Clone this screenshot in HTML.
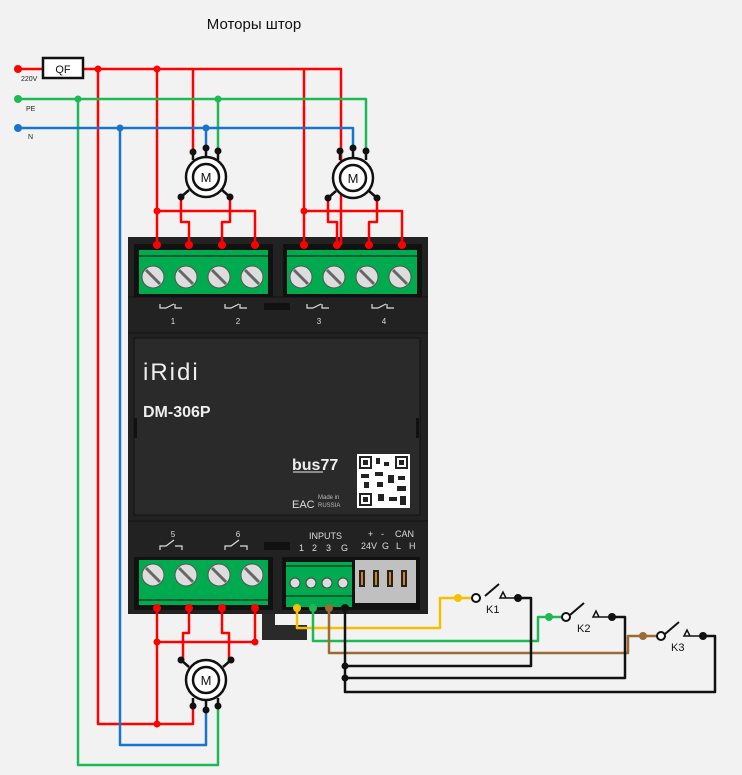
<!DOCTYPE html>
<html><head><meta charset="utf-8"><style>
body{margin:0;background:#f2f2f2;}
svg{display:block;font-family:"Liberation Sans","DejaVu Sans",sans-serif;}
</style></head><body>
<svg width="742" height="775" viewBox="0 0 742 775" xmlns="http://www.w3.org/2000/svg">
<rect width="742" height="775" fill="#f2f2f2"/>
<text x="254" y="29" font-size="15" text-anchor="middle" fill="#111">Моторы штор</text>

<!-- device body -->
<rect x="128" y="237" width="300" height="377" fill="#222"/>
<rect x="134" y="244" width="139" height="53" fill="#111"/>
<rect x="283" y="244" width="139" height="53" fill="#111"/>
<g fill="#00aa4f">
<rect x="139" y="250" width="129" height="44"/>
<rect x="287" y="250" width="130" height="44"/>
</g>
<line x1="139" y1="256" x2="268" y2="256" stroke="#111" stroke-width="1"/>
<line x1="287" y1="256" x2="417" y2="256" stroke="#111" stroke-width="1"/>
<g fill="#00aa4f">
<circle cx="153" cy="277" r="14"/><circle cx="186" cy="277" r="14"/><circle cx="219" cy="277" r="14"/><circle cx="252" cy="277" r="14"/>
<circle cx="301" cy="277" r="14"/><circle cx="334" cy="277" r="14"/><circle cx="367" cy="277" r="14"/><circle cx="400" cy="277" r="14"/>
</g>
<g fill="#ddd" stroke="#555" stroke-width="1">
<circle cx="153" cy="277" r="11"/><circle cx="186" cy="277" r="11"/><circle cx="219" cy="277" r="11"/><circle cx="252" cy="277" r="11"/>
<circle cx="301" cy="277" r="11"/><circle cx="334" cy="277" r="11"/><circle cx="367" cy="277" r="11"/><circle cx="400" cy="277" r="11"/>
</g>
<g stroke="#666" stroke-width="3">
<line x1="146" y1="270" x2="160" y2="284"/><line x1="179" y1="270" x2="193" y2="284"/><line x1="212" y1="270" x2="226" y2="284"/><line x1="245" y1="270" x2="259" y2="284"/>
<line x1="294" y1="270" x2="308" y2="284"/><line x1="327" y1="270" x2="341" y2="284"/><line x1="360" y1="270" x2="374" y2="284"/><line x1="393" y1="270" x2="407" y2="284"/>
</g>
<line x1="128" y1="297" x2="428" y2="297" stroke="#111"/>
<line x1="128" y1="333" x2="428" y2="333" stroke="#111"/>
<rect x="264" y="303" width="26" height="7" fill="#111"/>
<g stroke="#ddd" stroke-width="1.2" fill="none">
<path d="M160,304v4h6l8,-4M175,304v4h7"/>
<path d="M225,304v4h6l8,-4M240,304v4h7"/>
<path d="M307,304v4h6l8,-4M322,304v4h7"/>
<path d="M372,304v4h6l8,-4M387,304v4h7"/>
</g>
<g fill="#ddd" font-size="8" text-anchor="middle">
<text x="173" y="324">1</text><text x="238" y="324">2</text><text x="319" y="324">3</text><text x="384" y="324">4</text>
</g>
<rect x="134" y="338" width="286" height="177" fill="#2a2a2a" stroke="#111"/>
<rect x="134" y="418" width="3" height="20" fill="#111"/><rect x="416" y="418" width="3" height="20" fill="#111"/>
<text x="143" y="380" font-size="24" fill="#eee" letter-spacing="2">iRidi</text>
<text x="143" y="417" font-size="16" font-weight="bold" fill="#eee">DM-306P</text>
<text x="292" y="470" font-size="16" font-weight="bold" fill="#eee">bus77</text>
<line x1="293" y1="472" x2="323" y2="472" stroke="#eee"/>
<text x="292" y="508" font-size="11" fill="#ddd">EAC</text>
<text x="318" y="499" font-size="6" fill="#bbb">Made in</text>
<text x="318" y="507" font-size="6" fill="#bbb">RUSSIA</text>
<rect x="357" y="454" width="53" height="54" fill="#fff"/>
<g fill="#222">
<rect x="359" y="456" width="13" height="13"/><rect x="395" y="456" width="13" height="13"/><rect x="359" y="493" width="13" height="13"/>
<rect x="376" y="458" width="4" height="6"/><rect x="384" y="462" width="5" height="4"/><rect x="375" y="472" width="8" height="4"/>
<rect x="361" y="474" width="8" height="4"/><rect x="388" y="475" width="6" height="8"/><rect x="398" y="476" width="7" height="4"/>
<rect x="364" y="482" width="5" height="6"/><rect x="377" y="482" width="6" height="5"/><rect x="397" y="486" width="9" height="5"/>
<rect x="378" y="494" width="6" height="7"/><rect x="389" y="497" width="8" height="4"/><rect x="400" y="496" width="6" height="9"/>
</g>
<g fill="#fff">
<rect x="361" y="458" width="9" height="9"/><rect x="397" y="458" width="9" height="9"/><rect x="361" y="495" width="9" height="9"/>
</g>
<g fill="#222"><rect x="363" y="460" width="5" height="5"/><rect x="399" y="460" width="5" height="5"/><rect x="363" y="497" width="5" height="5"/></g>
<line x1="128" y1="521" x2="428" y2="521" stroke="#111"/>
<g stroke="#ddd" stroke-width="1.2" fill="none">
<path d="M160,550v-4h6l8,-6M175,546h7v4"/>
<path d="M225,550v-4h6l8,-6M240,546h7v4"/>
</g>
<g fill="#ddd" font-size="8" text-anchor="middle">
<text x="173" y="537">5</text><text x="238" y="537">6</text>
</g>
<rect x="264" y="542" width="26" height="8" fill="#111"/>
<g fill="#ddd" font-size="9">
<text x="309" y="539">INPUTS</text>
<text x="299" y="551">1</text><text x="312" y="551">2</text><text x="326" y="551">3</text><text x="341" y="551">G</text>
<text x="368" y="537">+</text><text x="381" y="537">-</text><text x="395" y="537">CAN</text>
<text x="361" y="549">24V</text><text x="382" y="549">G</text><text x="396" y="549">L</text><text x="409" y="549">H</text>
</g>
<rect x="134" y="557" width="139" height="53" fill="#111"/>
<rect x="282" y="557" width="138" height="53" fill="#111"/>
<rect x="139" y="560" width="129" height="45" fill="#00aa4f"/>
<line x1="139" y1="600" x2="268" y2="600" stroke="#111"/>
<g fill="#00aa4f">
<circle cx="153" cy="575" r="14"/><circle cx="186" cy="575" r="14"/><circle cx="219" cy="575" r="14"/><circle cx="252" cy="575" r="14"/>
</g>
<g fill="#ddd" stroke="#555" stroke-width="1">
<circle cx="153" cy="575" r="11"/><circle cx="186" cy="575" r="11"/><circle cx="219" cy="575" r="11"/><circle cx="252" cy="575" r="11"/>
</g>
<g stroke="#666" stroke-width="3">
<line x1="146" y1="568" x2="160" y2="582"/><line x1="179" y1="568" x2="193" y2="582"/><line x1="212" y1="568" x2="226" y2="582"/><line x1="245" y1="568" x2="259" y2="582"/>
</g>
<rect x="286" y="562" width="66" height="45" fill="#00aa4f"/>
<line x1="286" y1="566" x2="352" y2="566" stroke="#111"/>
<line x1="286" y1="596" x2="352" y2="596" stroke="#111"/>
<g fill="#ddd" stroke="#444" stroke-width="1">
<circle cx="295" cy="583" r="5"/><circle cx="311" cy="583" r="5"/><circle cx="327" cy="583" r="5"/><circle cx="343" cy="583" r="5"/>
</g>
<rect x="355" y="560" width="61" height="43" fill="#c0c0c0"/>
<g fill="#222"><rect x="359" y="570" width="6" height="17"/><rect x="373" y="570" width="6" height="17"/><rect x="387" y="570" width="6" height="17"/><rect x="401" y="570" width="6" height="17"/></g>
<g fill="#d4821e"><rect x="361" y="572" width="2" height="13"/><rect x="375" y="572" width="2" height="13"/><rect x="389" y="572" width="2" height="13"/><rect x="403" y="572" width="2" height="13"/></g>
<path d="M262,614h13v11h32v15h-45z" fill="#2a2a2a"/>

<g fill="none" stroke-width="2.5" stroke-linejoin="round">
<!-- bus lines -->
<path d="M18,69H43M83,69H341V245M304,69V245M157,69V245M193,69V152" stroke="#f00"/>
<path d="M98,69V724H193V706" stroke="#f00"/>
<path d="M18,99H366V151M218,99V151M78,99V765H218V706" stroke="#1db954"/>
<path d="M18,128H353V148M206,128V148M120,128V745H206V710" stroke="#1874cd"/>
<!-- motor1 wiring -->
<path d="M157,211H255V245M181,197V222H189V245M230,197V222H222V245" stroke="#f00"/>
<path d="M304,211H402V245M328,198V222H337V245M377,198V222H369V245" stroke="#f00"/>
<!-- bottom motor wiring -->
<path d="M157,608V724M157,642H255V608M189,608V633H183V660M222,608V633H229V660" stroke="#f00"/>
<!-- inputs -->
<path d="M297,608V628H440V598H476" stroke="#f5c000"/>
<path d="M313,608V641H538V617H566" stroke="#1db954"/>
<path d="M329,608V653H628V636H661" stroke="#9a6b35"/>
<path d="M345,608V692H715V636H703M345,678H625V617H612M345,666H531V598H518" stroke="#111"/>
</g>
<!-- QF -->
<rect x="43" y="58" width="40" height="20" fill="#fff" stroke="#111" stroke-width="2.5"/>
<text x="63" y="73" font-size="11" text-anchor="middle" fill="#111">QF</text>
<g font-size="7" fill="#222"><text x="21" y="81">220V</text><text x="26" y="111">PE</text><text x="28" y="139">N</text></g>
<!-- dots -->
<g fill="#f00">
<circle cx="18" cy="69" r="4"/><circle cx="98" cy="69" r="3.5"/><circle cx="157" cy="69" r="3.5"/><circle cx="157" cy="211" r="3.5"/><circle cx="304" cy="211" r="3.5"/>
<circle cx="157" cy="245" r="4"/><circle cx="189" cy="245" r="4"/><circle cx="222" cy="245" r="4"/><circle cx="255" cy="245" r="4"/>
<circle cx="304" cy="245" r="4"/><circle cx="337" cy="245" r="4"/><circle cx="369" cy="245" r="4"/><circle cx="402" cy="245" r="4"/>
<circle cx="157" cy="608" r="4"/><circle cx="189" cy="608" r="4"/><circle cx="222" cy="608" r="4"/><circle cx="255" cy="608" r="4"/>
<circle cx="157" cy="642" r="3.5"/><circle cx="255" cy="642" r="3.5"/><circle cx="157" cy="724" r="3.5"/>
</g>
<g fill="#1db954"><circle cx="18" cy="99" r="4"/><circle cx="78" cy="99" r="3.5"/><circle cx="218" cy="99" r="3.5"/><circle cx="313" cy="608" r="4"/><circle cx="549" cy="617" r="4"/></g>
<g fill="#1874cd"><circle cx="18" cy="128" r="4"/><circle cx="120" cy="128" r="3.5"/><circle cx="206" cy="128" r="3.5"/></g>
<g fill="#f5c000"><circle cx="297" cy="608" r="4"/><circle cx="458" cy="598" r="4"/></g>
<g fill="#9a6b35"><circle cx="329" cy="608" r="4"/><circle cx="643" cy="636" r="4"/></g>
<g fill="#111"><circle cx="345" cy="608" r="4"/><circle cx="345" cy="666" r="3.5"/><circle cx="345" cy="678" r="3.5"/>
<circle cx="518" cy="598" r="4"/><circle cx="612" cy="617" r="4"/><circle cx="703" cy="636" r="4"/></g>
<!-- switches -->
<g stroke="#111" stroke-width="2" fill="#fff">
<path d="M476,598h5M485,596l14,-12" fill="none"/><circle cx="476" cy="598" r="4"/>
<path d="M570,617h0M570,615l14,-12" fill="none"/><circle cx="566" cy="617" r="4"/>
<path d="M665,634l14,-12" fill="none"/><circle cx="661" cy="636" r="4"/>
</g>
<g stroke="#111" stroke-width="1.5" fill="none">
<path d="M500,598l3,-6l3,6zM506,598h12"/>
<path d="M593,617l3,-6l3,6zM599,617h13"/>
<path d="M684,636l3,-6l3,6zM690,636h13"/>
</g>
<g font-size="11" fill="#111"><text x="486" y="613">K1</text><text x="577" y="632">K2</text><text x="671" y="651">K3</text></g>
<!-- motors -->
<g stroke="#111" stroke-width="2.5">
<path d="M193,152v8M206,148v10M218,151v9M181,197l8,-7M230,197l-8,-7"/>
<path d="M340,151v9M353,148v10M366,151v9M328,198l8,-7M377,198l-8,-7"/>
<path d="M181,660l8,7M231,660l-8,7M193,706v-8M206,710v-12M218,706v-8"/>
</g>
<g fill="#fff" stroke="#111" stroke-width="2.5">
<circle cx="206" cy="177" r="20"/><circle cx="206" cy="177" r="13"/>
<circle cx="353" cy="178" r="20"/><circle cx="353" cy="178" r="13"/>
<circle cx="206" cy="680" r="20"/><circle cx="206" cy="680" r="13"/>
</g>
<g font-size="13" text-anchor="middle" fill="#111"><text x="206" y="182">M</text><text x="353" y="183">M</text><text x="206" y="685">M</text></g>
<g fill="#111">
<circle cx="193" cy="152" r="3.5"/><circle cx="206" cy="148" r="3.5"/><circle cx="218" cy="151" r="3.5"/><circle cx="181" cy="197" r="3.5"/><circle cx="230" cy="197" r="3.5"/>
<circle cx="340" cy="151" r="3.5"/><circle cx="353" cy="148" r="3.5"/><circle cx="366" cy="151" r="3.5"/><circle cx="328" cy="198" r="3.5"/><circle cx="377" cy="198" r="3.5"/>
<circle cx="181" cy="660" r="3.5"/><circle cx="231" cy="660" r="3.5"/><circle cx="193" cy="706" r="3.5"/><circle cx="206" cy="710" r="3.5"/><circle cx="218" cy="706" r="3.5"/>
</g>
</svg>
</body></html>
